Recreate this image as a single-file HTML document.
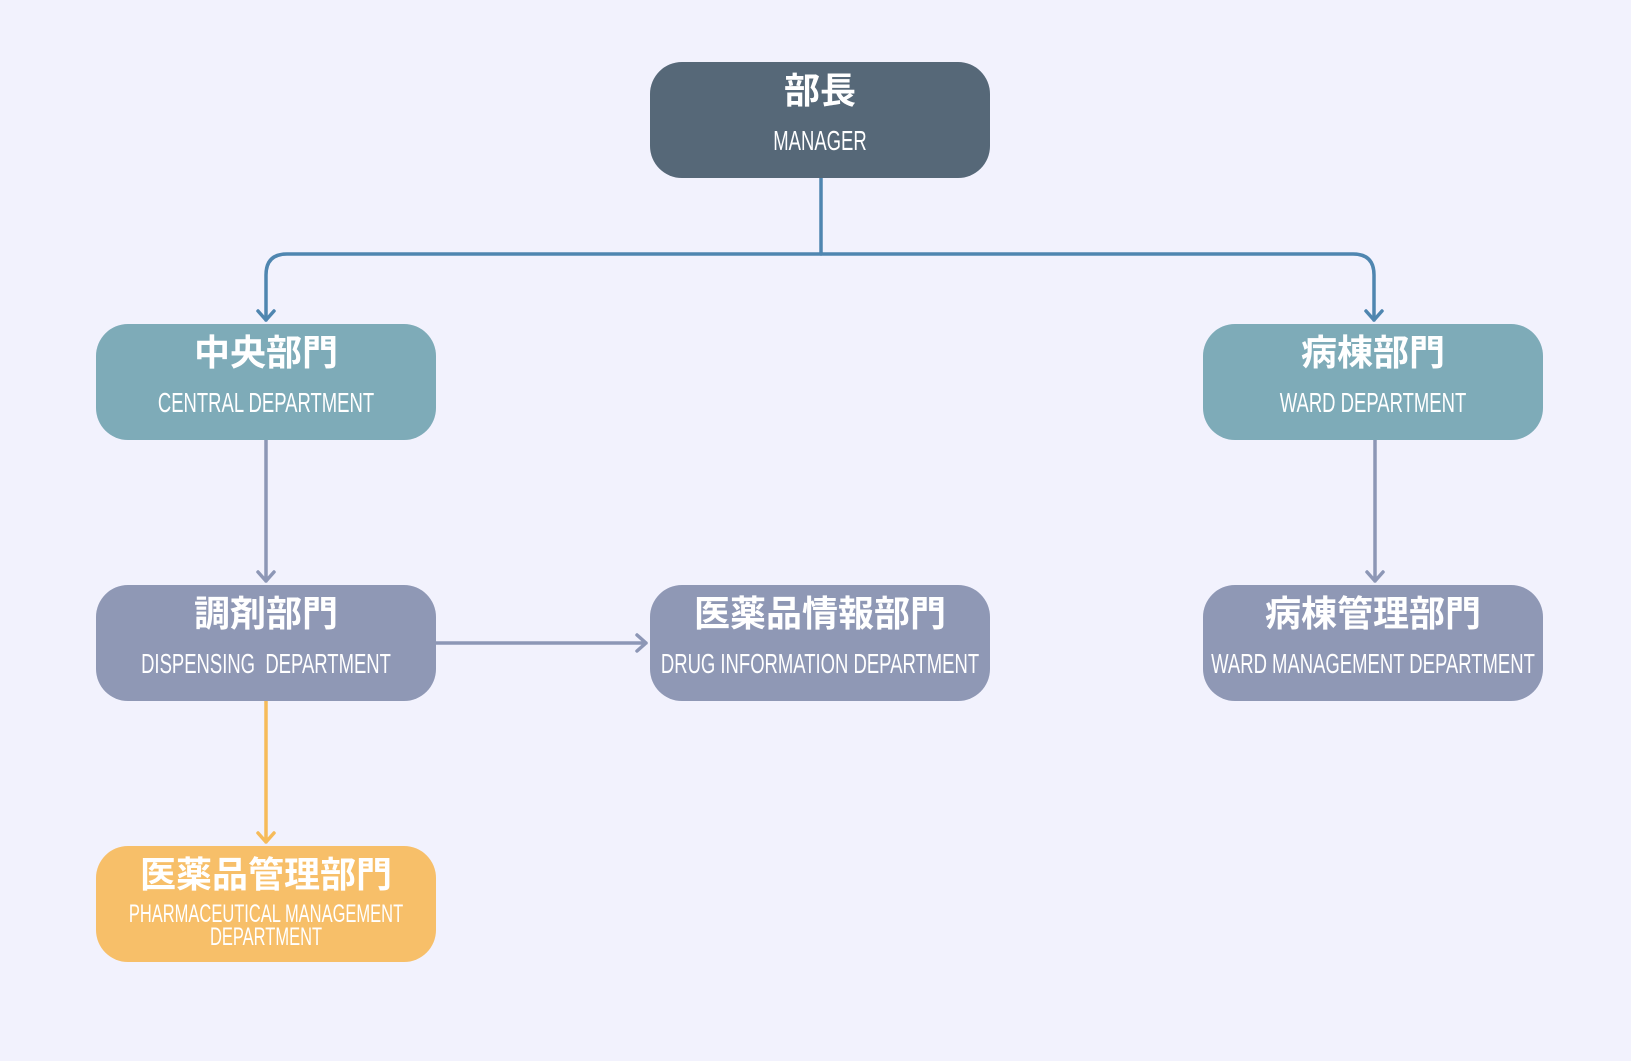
<!DOCTYPE html>
<html><head><meta charset="utf-8"><style>
html,body{margin:0;padding:0;background:#f2f2fd;}
svg{display:block;}
.zh{font-family:"Liberation Sans","Noto Sans CJK JP",sans-serif;font-weight:bold;font-size:36px;fill:#fff;text-anchor:middle;}
.en{font-family:"Liberation Sans",sans-serif;font-size:28px;fill:#fff;text-anchor:middle;}
.en2{font-family:"Liberation Sans",sans-serif;font-size:25px;fill:#fff;text-anchor:middle;}
</style></head><body>
<svg width="1631" height="1061" viewBox="0 0 1631 1061" xmlns="http://www.w3.org/2000/svg">
<rect width="1631" height="1061" fill="#f2f2fd"/>
<g fill="none" stroke-width="3.5" stroke-linecap="round" stroke-linejoin="round">
<path d="M821 178 V254" stroke="#4f86b0"/>
<path d="M266 320 V275 Q266 254 287 254 H1353 Q1374 254 1374 275 V320" stroke="#4f86b0"/>
<path d="M258 311 L266 320 L274 311 M1366 311 L1374 320 L1382 311" stroke="#4f86b0"/>
<path d="M266 439 V581 M258 572 L266 581 L274 572" stroke="#8d97b6"/>
<path d="M1375 439 V581 M1367 572 L1375 581 L1383 572" stroke="#8d97b6"/>
<path d="M436 643 H646 M637 635 L646 643 L637 651" stroke="#8d97b6"/>
<path d="M266 700 V842 M258 833 L266 842 L274 833" stroke="#f6bb5a"/>
</g>
<rect x="650" y="62" width="340" height="116" rx="32" fill="#566878"/>
<rect x="96" y="324" width="340" height="116" rx="32" fill="#7eabb8"/>
<rect x="1203" y="324" width="340" height="116" rx="32" fill="#7eabb8"/>
<rect x="96" y="585" width="340" height="116" rx="32" fill="#8f98b5"/>
<rect x="650" y="585" width="340" height="116" rx="32" fill="#8f98b5"/>
<rect x="1203" y="585" width="340" height="116" rx="32" fill="#8f98b5"/>
<rect x="96" y="846" width="340" height="116" rx="32" fill="#f7bf69"/>
<text class="zh" x="820" y="103">部長</text>
<text class="en" transform="translate(820,150) scale(.66,1)">MANAGER</text>
<text class="zh" x="266" y="365">中央部門</text>
<text class="en" transform="translate(266,412) scale(.66,1)">CENTRAL DEPARTMENT</text>
<text class="zh" x="1373" y="365">病棟部門</text>
<text class="en" transform="translate(1373,412) scale(.66,1)">WARD DEPARTMENT</text>
<text class="zh" x="266" y="626">調剤部門</text>
<text class="en" transform="translate(266,673) scale(.66,1)">DISPENSING&#160; DEPARTMENT</text>
<text class="zh" x="820" y="626">医薬品情報部門</text>
<text class="en" transform="translate(820,673) scale(.66,1)">DRUG INFORMATION DEPARTMENT</text>
<text class="zh" x="1373" y="626">病棟管理部門</text>
<text class="en" transform="translate(1373,673) scale(.66,1)">WARD MANAGEMENT DEPARTMENT</text>
<text class="zh" x="266" y="887">医薬品管理部門</text>
<text class="en2" transform="translate(266,922) scale(.66,1)">PHARMACEUTICAL MANAGEMENT</text>
<text class="en2" transform="translate(266,945) scale(.66,1)">DEPARTMENT</text>
</svg>
</body></html>
